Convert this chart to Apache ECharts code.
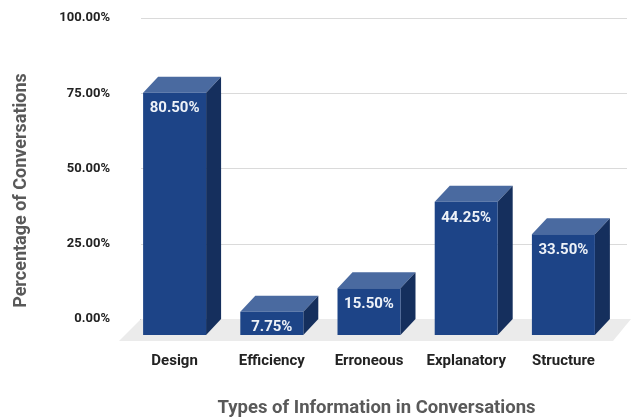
<!DOCTYPE html>
<html>
<head>
<meta charset="utf-8">
<script src="https://cdn.jsdelivr.net/npm/echarts@6/dist/echarts.min.js"></script>
<style>
html,body{margin:0;padding:0;background:#fff;}
#chart{width:631px;height:417px;}
</style>
</head>
<body>
<div id="chart"></div>
<script>
const categories = ['Design', 'Efficiency', 'Erroneous', 'Explanatory', 'Structure'];
const values = [80.5, 7.75, 15.5, 44.25, 33.5];
const valueLabels = ['80.50%', '7.75%', '15.50%', '44.25%', '33.50%'];
const yTicks = [0, 25, 50, 75, 100];

const FRONT = '#1d4487';
const TOP = '#4a6aa0';
const SIDE = '#152f5d';
const DX = -15, DY = 16;
const FONT = 'Roboto, "Noto Sans", sans-serif';

const chart = echarts.init(document.getElementById('chart'), null, {renderer: 'canvas'});

function renderBar(params, api) {
  const i = api.value(0);
  const v = api.value(1);
  const top = api.coord([i, v]);
  const base = api.coord([i, 0]);
  const w = api.size([1, 0])[0] * 0.648;
  const x0 = top[0] - w / 2, x1 = top[0] + w / 2;
  const yt = top[1], yb = base[1];
  const fx0 = x0 + DX, fx1 = x1 + DX, fyt = yt + DY, fyb = yb + DY;
  return {
    type: 'group',
    children: [
      {type: 'polygon', shape: {points: [[fx0, fyt], [fx1, fyt], [x1, yt], [x0, yt]]}, style: {fill: TOP}},
      {type: 'polygon', shape: {points: [[fx1, fyt], [x1, yt], [x1, yb], [fx1, fyb]]}, style: {fill: SIDE}},
      {type: 'rect', shape: {x: fx0, y: fyt, width: w, height: fyb - fyt}, style: {fill: FRONT}},
      {type: 'text',
       clipPath: {type: 'rect', shape: {x: fx0, y: fyt, width: w, height: fyb - fyt}},
       style: {text: valueLabels[params.dataIndex], x: (fx0 + fx1) / 2, y: fyt + 16,
               align: 'center', verticalAlign: 'middle', fill: '#eef2f8',
               font: 'bold 15px ' + FONT}}
    ]
  };
}

function renderFloor(params, api) {
  const cs = params.coordSys;
  const yb = cs.y + cs.height;
  const xl = cs.x;
  const xr = api.getWidth();
  const d = 22;
  return {
    type: 'polygon',
    shape: {points: [[xl, yb], [xr, yb], [xr - 18, yb + d], [xl - d, yb + d]]},
    style: {fill: '#ebebeb'}
  };
}

chart.setOption({
  animation: false,
  grid: {left: 141, right: 4, top: 18, bottom: 98, containLabel: false, outerBoundsMode: 'none'},
  xAxis: {
    type: 'category',
    data: categories,
    axisLine: {show: true, lineStyle: {color: '#333', width: 1}},
    axisTick: {show: false},
    axisLabel: {interval: 0, margin: 35, color: '#222', fontFamily: FONT, fontWeight: 'bold', fontSize: 15,
                padding: [0, 30, 0, 0]},
    name: 'Types of Information in Conversations',
    nameLocation: 'middle',
    nameGap: 80,
    nameTextStyle: {color: '#595959', fontFamily: FONT, fontWeight: 'bold', fontSize: 18.5, padding: [0, 15, 0, 0]}
  },
  yAxis: {
    type: 'value',
    min: yTicks[0], max: yTicks[yTicks.length - 1], interval: 25,
    axisLine: {show: false},
    axisTick: {show: false},
    splitLine: {lineStyle: {color: '#dadada', width: 1}},
    axisLabel: {margin: 31, color: '#222', fontFamily: FONT, fontWeight: 'bold', fontSize: 13,
                formatter: v => v.toFixed(2) + '%'},
    name: 'Percentage of Conversations',
    nameLocation: 'middle',
    nameGap: 111,
    nameRotate: 90,
    nameTextStyle: {color: '#595959', fontFamily: FONT, fontWeight: 'bold', fontSize: 18, padding: [0, 44, 0, 0]}
  },
  series: [
    {type: 'custom', z: 1, silent: true, renderItem: renderFloor, data: [[0, 0]], clip: false},
    {type: 'custom', z: 3, renderItem: renderBar, clip: false,
     data: values.map((v, i) => [i, v])}
  ]
});
</script>
</body>
</html>
